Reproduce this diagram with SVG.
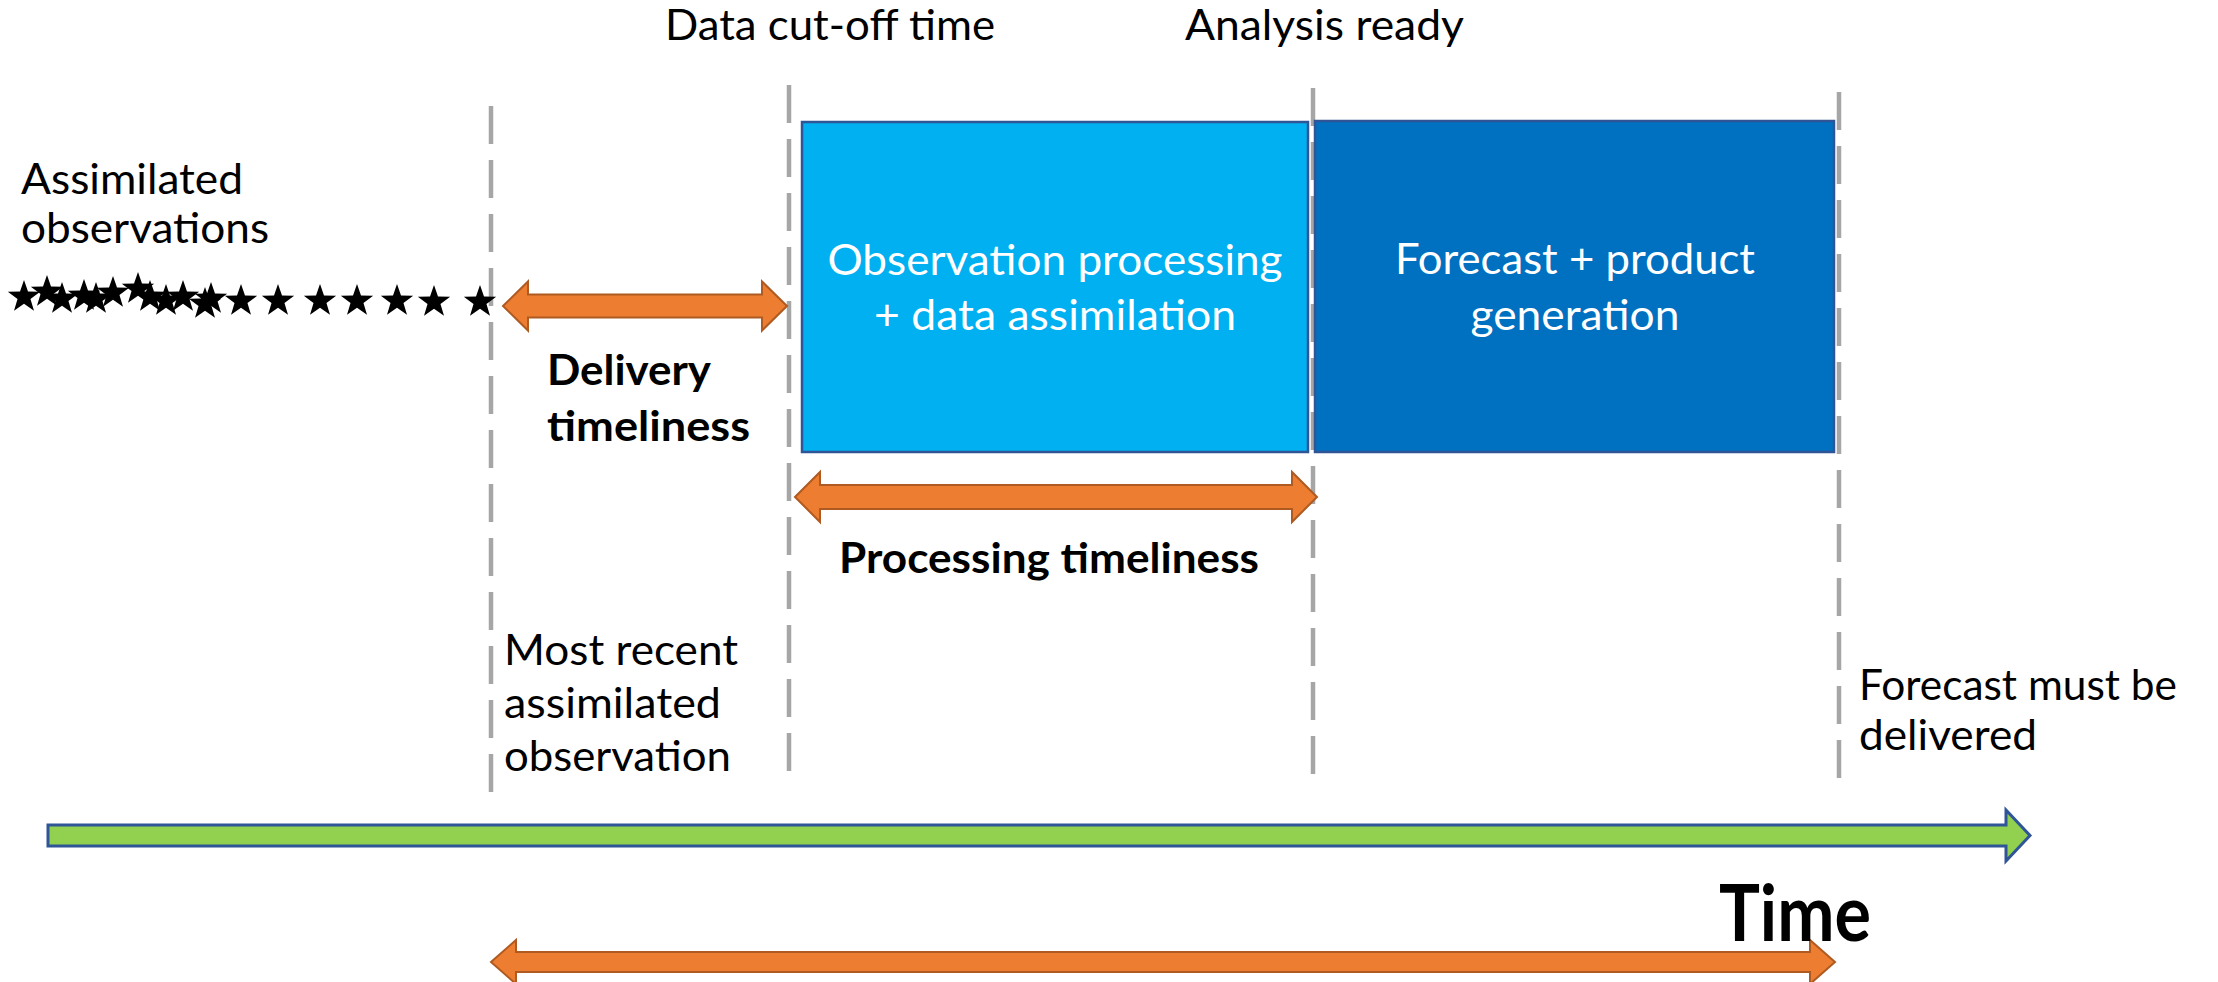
<svg xmlns="http://www.w3.org/2000/svg" xmlns:xlink="http://www.w3.org/1999/xlink" width="2218" height="982" viewBox="0 0 2218 982">
  <style>
    .lbl { font-family: Lato, "Liberation Sans", sans-serif; font-size: 42px; fill: #000; }
    .bold { font-weight: bold; }
    .big { font-size: 78px; }
    .box-text { font-family: Lato, "Liberation Sans", sans-serif; font-size: 42px; fill: #fff; text-anchor: middle; }
    .guide { stroke: #a6a6a6; stroke-width: 4.5; stroke-dasharray: 38 16; fill: none; }
    .span-arrow { fill: #ed7d31; stroke: #ae5a21; stroke-width: 2; stroke-linejoin: miter; }
    .time-arrow { fill: #92d050; stroke: #2f5597; stroke-width: 3; }
    .box { stroke: #2f5597; stroke-width: 2.5; }
  </style>
  <defs>
    <path id="star" d="M0,-17 L4.0,-5.5 L16.17,-5.25 L6.47,2.1 L10.0,13.75 L0,6.8 L-10.0,13.75 L-6.47,2.1 L-16.17,-5.25 L-4.0,-5.5 Z" fill="#000"/>
  </defs>
  <rect width="2218" height="982" fill="#fff"/>

  <!-- vertical time markers -->
  <g id="markers">
    <line class="guide" x1="491" y1="106" x2="491" y2="795"/>
    <line class="guide" x1="789" y1="85" x2="789" y2="778"/>
    <line class="guide" x1="1313" y1="88" x2="1313" y2="778"/>
    <line class="guide" x1="1839" y1="92" x2="1839" y2="778"/>
  </g>

  <!-- processing stages -->
  <g id="obs-processing">
    <rect class="box" x="802" y="122" width="506" height="330" fill="#00b0f0"/>
    <text class="box-text" x="1055" y="275" textLength="455" lengthAdjust="spacingAndGlyphs">Observation processing</text>
    <text class="box-text" x="1055" y="330" textLength="362" lengthAdjust="spacingAndGlyphs">+ data assimilation</text>
  </g>
  <g id="forecast-generation">
    <rect class="box" x="1315" y="121" width="519" height="331" fill="#0070c0"/>
    <text class="box-text" x="1575" y="274" textLength="360" lengthAdjust="spacingAndGlyphs">Forecast + product</text>
    <text class="box-text" x="1575" y="330" textLength="209" lengthAdjust="spacingAndGlyphs">generation</text>
  </g>

  <!-- observations as stars -->
  <g id="observations">
    <use xlink:href="#star" x="24" y="297"/>
    <use xlink:href="#star" x="47" y="292"/>
    <use xlink:href="#star" x="62" y="299"/>
    <use xlink:href="#star" x="84" y="296"/>
    <use xlink:href="#star" x="96" y="299"/>
    <use xlink:href="#star" x="113" y="293"/>
    <use xlink:href="#star" x="138" y="289"/>
    <use xlink:href="#star" x="150" y="297"/>
    <use xlink:href="#star" x="166" y="301"/>
    <use xlink:href="#star" x="183" y="297"/>
    <use xlink:href="#star" x="205" y="304"/>
    <use xlink:href="#star" x="211" y="299"/>
    <use xlink:href="#star" x="241" y="301"/>
    <use xlink:href="#star" x="278" y="301"/>
    <use xlink:href="#star" x="320" y="301"/>
    <use xlink:href="#star" x="357" y="301"/>
    <use xlink:href="#star" x="397" y="301"/>
    <use xlink:href="#star" x="434" y="302"/>
    <use xlink:href="#star" x="480" y="302"/>
  </g>

  <!-- span arrows and time axis -->
  <g id="connectors">
    <polygon id="delivery-span" class="span-arrow" points="503,306 528,281.5 528,294.5 762,294.5 762,281.5 787,306 762,330.5 762,317.5 528,317.5 528,330.5"/>
    <polygon id="processing-span" class="span-arrow" points="795,497 820,472 820,485 1292,485 1292,472 1317,497 1292,522 1292,509 820,509 820,522"/>
    <polygon id="total-span" class="span-arrow" points="491,962 516,940 516,952 1810,952 1810,940 1835,962 1810,984 1810,972 516,972 516,984"/>
    <polygon id="time-axis" class="time-arrow" points="48,825 2006,825 2006,810 2030,835.5 2006,861 2006,846 48,846"/>
  </g>

  <!-- labels -->
  <g id="label-cutoff">
    <text class="lbl" x="665" y="40" textLength="330" lengthAdjust="spacingAndGlyphs">Data cut-off time</text>
  </g>
  <g id="label-analysis">
    <text class="lbl" x="1185" y="40" textLength="279" lengthAdjust="spacingAndGlyphs">Analysis ready</text>
  </g>
  <g id="label-assimilated">
    <text class="lbl" x="21" y="194" textLength="222" lengthAdjust="spacingAndGlyphs">Assimilated</text>
    <text class="lbl" x="21" y="243" textLength="248" lengthAdjust="spacingAndGlyphs">observations</text>
  </g>
  <g id="label-delivery">
    <text class="lbl bold" x="547" y="385" textLength="164" lengthAdjust="spacingAndGlyphs">Delivery</text>
    <text class="lbl bold" x="547" y="441" textLength="203" lengthAdjust="spacingAndGlyphs">timeliness</text>
  </g>
  <g id="label-processing">
    <text class="lbl bold" x="839" y="573" textLength="420" lengthAdjust="spacingAndGlyphs">Processing timeliness</text>
  </g>
  <g id="label-recent">
    <text class="lbl" x="504" y="665" textLength="234" lengthAdjust="spacingAndGlyphs">Most recent</text>
    <text class="lbl" x="504" y="718" textLength="217" lengthAdjust="spacingAndGlyphs">assimilated</text>
    <text class="lbl" x="504" y="771" textLength="227" lengthAdjust="spacingAndGlyphs">observation</text>
  </g>
  <g id="label-deadline">
    <text class="lbl" x="1859" y="700" textLength="318" lengthAdjust="spacingAndGlyphs">Forecast must be</text>
    <text class="lbl" x="1859" y="750" textLength="178" lengthAdjust="spacingAndGlyphs">delivered</text>
  </g>
  <g id="label-time">
    <text class="lbl bold big" x="1719" y="941" textLength="152" lengthAdjust="spacingAndGlyphs">Time</text>
  </g>
</svg>
